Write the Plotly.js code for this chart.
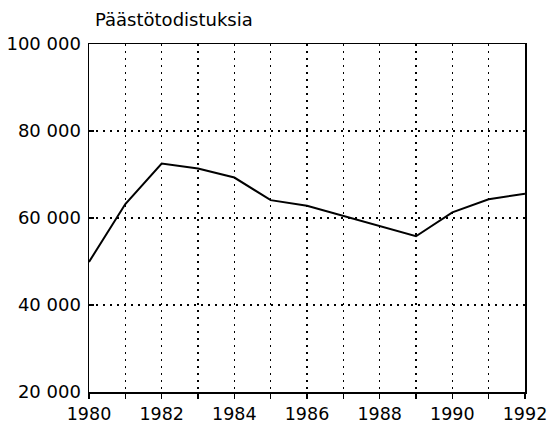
<!DOCTYPE html>
<html><head><meta charset="utf-8">
<script src="https://cdn.plot.ly/plotly-3.0.1.min.js"></script>
<style>html,body{margin:0;padding:0;background:#fff}</style>
</head><body><div id="chart" style="width:549px;height:425px"></div>
<script>
const years = [1980,1981,1982,1983,1984,1985,1986,1987,1988,1989,1990,1991,1992];
const certificates = [49900,63200,72500,71400,69300,64100,62800,60500,58100,55800,61300,64300,65600];
const xTickVals = [1980,1981,1982,1983,1984,1985,1986,1987,1988,1989,1990,1991,1992];
const xTickText = ['1980','','1982','','1984','','1986','','1988','','1990','','1992'];
const yTickVals = [20000,40000,60000,80000,100000];
const titleText = 'Päästötodistuksia';

const font = {family:'DejaVu Sans, sans-serif', size:18, color:'#000'};
Plotly.newPlot('chart', [{
  x: years, y: certificates, type:'scatter', mode:'lines',
  line:{color:'#000', width:2}, hoverinfo:'skip'
}], {
  width:549, height:425,
  margin:{l:89, r:24, t:44, b:33, pad:0},
  paper_bgcolor:'#fff', plot_bgcolor:'#fff',
  separators:', ',
  showlegend:false,
  font: font,
  title:{text:titleText, x:95/549, xanchor:'left', y:1-20/425, yanchor:'middle', font:{family:'DejaVu Sans, sans-serif', size:18, color:'#000'}},
  xaxis:{range:[1980,1992], tickvals:xTickVals, ticktext:xTickText, ticks:'outside', ticklen:5, tickwidth:1.5, tickcolor:'#000',
    showline:true, linecolor:'#000', linewidth:1.5, mirror:true, zeroline:false,
    showgrid:true, gridcolor:'#000', gridwidth:1.3, griddash:'1.5px,5.5px', tickfont:{family:'DejaVu Sans, sans-serif', size:17.5, color:'#000'}, ticklabelstandoff:0},
  yaxis:{range:[20000,100000], tickvals:yTickVals, tickformat:',d', ticks:'inside', ticklen:5, tickwidth:1.5, tickcolor:'#000',
    showline:true, linecolor:'#000', linewidth:1.5, mirror:true, zeroline:false,
    showgrid:true, gridcolor:'#000', gridwidth:1.3, griddash:'1.5px,5.5px', tickfont:font, ticklabelstandoff:3}
}, {staticPlot:true});
</script></body></html>
